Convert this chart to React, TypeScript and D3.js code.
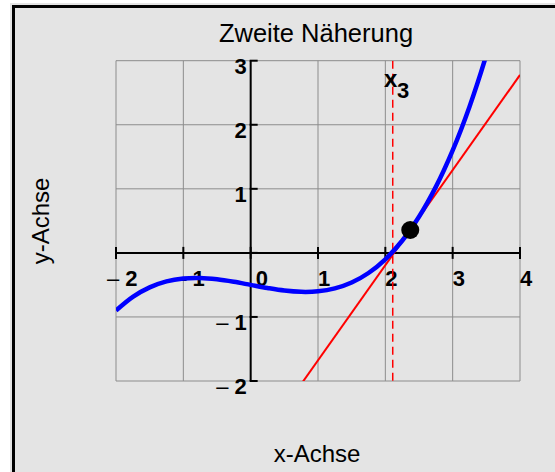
import React from "react";
import * as d3 from "d3";

const curveX = [-2, -1.75, -1.5, -1.25, -1, -0.75, -0.5, -0.25, 0, 0.25, 0.5, 0.75, 1, 1.25, 1.5, 1.75, 2, 2.25, 2.5, 2.75, 3, 3.25, 3.5, 3.6];
const curveY = [-0.9, -0.686, -0.538, -0.445, -0.4, -0.392, -0.413, -0.452, -0.5, -0.548, -0.588, -0.608, -0.6, -0.555, -0.463, -0.314, -0.1, 0.189, 0.563, 1.03, 1.6, 2.283, 3.088, 3.46];

// Current approximation point and tangent slope
const pointX = 2.37;
const pointY = 0.357;
const tangentSlope = 1.485;
// Next Newton iterate
const nextX = 2.11;

const xTicks = [-2, -1, 0, 1, 2, 3, 4];
const yTicks = [-2, -1, 1, 2, 3];
const xTickLabels = ["2", "1", "0", "1", "2", "3", "4"];
const yTickLabels = ["2", "1", "1", "2", "3"];

const W = 555;
const H = 472;
const FONT = "'Liberation Sans', Arial, Helvetica, sans-serif";

export default function App() {
  const x = d3.scaleLinear().domain([-2, 4]).range([116, 520]);
  const y = d3.scaleLinear().domain([-2, 3]).range([381, 60.7]);
  const [x0, x1] = x.range();
  const [y0, y1] = y.range();

  const line = d3
    .line<number>()
    .x((_, i) => x(curveX[i]))
    .y((d) => y(d))
    .curve(d3.curveCatmullRom.alpha(0.5));

  const tangent = (t: number) => pointY + tangentSlope * (t - pointX);
  const gridX = d3.range(-2, 5);
  const gridY = d3.range(-2, 4);

  return (
    <svg
      width={W}
      height={H}
      style={{ position: "absolute", left: 0, top: 0, display: "block" }}
      fontFamily={FONT}
    >
      <defs>
        <clipPath id="plotClip">
          <rect x={x0} y={y1} width={x1 - x0} height={y0 - y1} />
        </clipPath>
      </defs>
      <rect x={0} y={0} width={W} height={H} fill="#ffffff" />
      <rect x={10} y={3} width={W} height={H} fill="#e4e4e4" />
      <rect x={13.5} y={6.5} width={W + 20} height={H + 20} fill="none" stroke="#000" strokeWidth={3} />

      {/* grid */}
      <g stroke="#8c8c8c" strokeWidth={1}>
        {gridX.map((v) => (
          <line key={"gx" + v} x1={x(v)} x2={x(v)} y1={y1} y2={y0} />
        ))}
        {gridY.map((v) => (
          <line key={"gy" + v} x1={x0} x2={x1} y1={y(v)} y2={y(v)} />
        ))}
      </g>

      {/* axes */}
      <g stroke="#000" strokeWidth={2}>
        <line x1={x0} x2={x1} y1={y(0)} y2={y(0)} />
        <line x1={x(0)} x2={x(0)} y1={y1} y2={y0} />
        {xTicks.map((v) => (
          <line key={"tx" + v} x1={x(v)} x2={x(v)} y1={y(0) - 6} y2={y(0) + 6} />
        ))}
        {[-2, -1, 0, 1, 2, 3].map((v) => (
          <line key={"ty" + v} x1={x(0) - 1} x2={x(0) + 7} y1={y(v)} y2={y(v)} />
        ))}
      </g>

      {/* tick labels */}
      <g fontSize={22} fontWeight="bold" fill="#000">
        {xTicks.map((v, i) => {
          const base = y(0) + 33;
          if (v < 0) {
            return (
              <text key={"lx" + v} x={x(v) - 9} y={base}>
                <tspan fontWeight="normal">–</tspan>
                <tspan dx={6}>{xTickLabels[i]}</tspan>
              </text>
            );
          }
          return (
            <text key={"lx" + v} x={x(v) + (v === 0 ? 5 : 0)} y={base}>
              {xTickLabels[i]}
            </text>
          );
        })}
        {yTicks.map((v, i) => (
          <text key={"ly" + v} x={x(0) - 4} y={y(v) + 13} textAnchor="end">
            {v < 0 ? (
              <>
                <tspan fontWeight="normal">–</tspan>
                <tspan dx={6}>{yTickLabels[i]}</tspan>
              </>
            ) : (
              yTickLabels[i]
            )}
          </text>
        ))}
      </g>

      <g clipPath="url(#plotClip)">
        {/* next iterate */}
        <line
          x1={x(nextX)}
          x2={x(nextX)}
          y1={y1}
          y2={y0}
          stroke="#ff0000"
          strokeWidth={1.5}
          strokeDasharray="8,5"
        />
        {/* tangent */}
        <line
          x1={x(-2)}
          y1={y(tangent(-2))}
          x2={x(4)}
          y2={y(tangent(4))}
          stroke="#ff0000"
          strokeWidth={2}
        />
        {/* function */}
        <path d={line(curveY) || ""} fill="none" stroke="#0000ff" strokeWidth={4.5} />
      </g>
      <circle cx={x(pointX)} cy={y(pointY)} r={9} fill="#000" />

      {/* x3 label */}
      <text x={384} y={87} fontSize={24} fontWeight="bold" fill="#000">
        x
      </text>
      <text x={397} y={98} fontSize={22} fontWeight="bold" fill="#000">
        3
      </text>

      {/* titles */}
      <text x={316} y={42} fontSize={25.5} textAnchor="middle" fill="#000">
        Zweite Näherung
      </text>
      <text x={317} y={462} fontSize={24} textAnchor="middle" fill="#000">
        x-Achse
      </text>
      <text
        transform={`translate(49,221) rotate(-90)`}
        fontSize={24}
        textAnchor="middle"
        fill="#000"
      >
        y-Achse
      </text>
    </svg>
  );
}
